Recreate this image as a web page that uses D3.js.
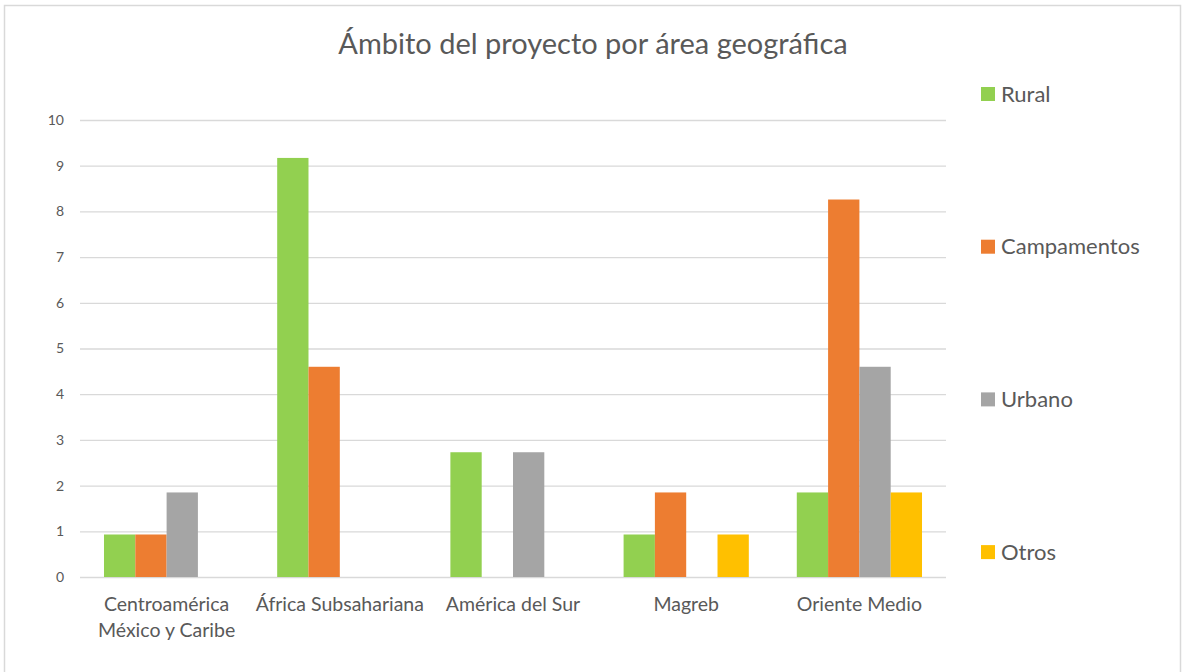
<!DOCTYPE html>
<html>
<head>
<meta charset="utf-8">
<script src="https://cdn.jsdelivr.net/npm/d3@7"></script>
<style>
  body { margin: 0; background: #fff; }
  text { font-family: Lato, "Open Sans", sans-serif; fill: #595959; }
</style>
</head>
<body>
<svg width="1184" height="672"></svg>
<script>
const width = 1184
const height = 672

const categories = [["Centroamérica", "México y Caribe"], ["África Subsahariana"], ["América del Sur"], ["Magreb"], ["Oriente Medio"]]
const series = ["Rural", "Campamentos", "Urbano", "Otros"]
const colors = ["#92d050", "#ed7d31", "#a5a5a5", "#ffc000"]
// one array per series, in category order (0 = no bar)
const rural       = [0.93, 9.17, 2.73, 0.93, 1.85]
const campamentos = [0.93, 4.6, 0, 1.85, 8.26]
const urbano      = [1.85, 0, 2.73, 0, 4.6]
const otros       = [0, 0, 0, 0.93, 1.85]
const yTicks = [0, 1, 2, 3, 4, 5, 6, 7, 8, 9, 10]

const values = [rural, campamentos, urbano, otros]
const margin = {left: 80, right: 238, top: 120, bottom: 95}

const svg = d3.select("svg")

// outer frame
svg.append("rect")
  .attr("x", 4.5).attr("y", 5.5)
  .attr("width", 1176).attr("height", 680)
  .attr("fill", "none").attr("stroke", "#d9d9d9").attr("stroke-width", 1.5)

svg.append("text")
  .attr("x", 593).attr("y", 54)
  .attr("text-anchor", "middle")
  .attr("font-size", 29)
  .text("Ámbito del proyecto por área geográfica")

const x0 = d3.scaleBand().domain(d3.range(categories.length))
  .range([margin.left, width - margin.right]).paddingInner(0.277).paddingOuter(0.1385)
const x1 = d3.scaleBand().domain(d3.range(series.length)).range([0, x0.bandwidth()])
const y = d3.scaleLinear().domain([0, 10]).range([height - margin.bottom, margin.top])

// grid
const yAxis = d3.axisLeft(y).tickValues(yTicks).tickSize(-(width - margin.left - margin.right)).tickPadding(16)
const gy = svg.append("g").attr("transform", `translate(${margin.left},0)`).call(yAxis)
gy.select(".domain").remove()
gy.selectAll("line").attr("stroke", "#d9d9d9").attr("stroke-width", 1.3)
gy.selectAll("text").attr("font-size", 14).style("font-family", "Lato, sans-serif").attr("fill", "#595959")

// bars
const groups = svg.append("g").selectAll("g")
  .data(categories).join("g")
  .attr("transform", (d, i) => `translate(${x0(i)},0)`)

groups.selectAll("rect")
  .data((d, i) => values.map((s, j) => ({s: j, v: s[i]})))
  .join("rect")
  .attr("x", d => x1(d.s))
  .attr("width", x1.bandwidth())
  .attr("y", d => y(d.v))
  .attr("height", d => y(0) - y(d.v))
  .attr("fill", d => colors[d.s])
  .attr("display", d => d.v > 0 ? null : "none")

// category labels
svg.append("g").selectAll("text")
  .data(categories).join("text")
  .attr("text-anchor", "middle")
  .attr("font-size", 19.5)
  .attr("transform", (d, i) => `translate(${x0(i) + x0.bandwidth() / 2},611)`)
  .selectAll("tspan")
  .data(d => d).join("tspan")
  .attr("x", 0)
  .attr("dy", (d, i) => i ? 26 : 0)
  .text(d => d)

// legend
const legend = svg.append("g").selectAll("g")
  .data(series).join("g")
  .attr("transform", (d, i) => `translate(981,${94 + i * 152.7})`)
legend.append("rect").attr("y", -7).attr("width", 14).attr("height", 14).attr("fill", (d, i) => colors[i])
legend.append("text").attr("x", 20).attr("dy", "0.35em").attr("font-size", 22).text(d => d)
</script>
</body>
</html>
